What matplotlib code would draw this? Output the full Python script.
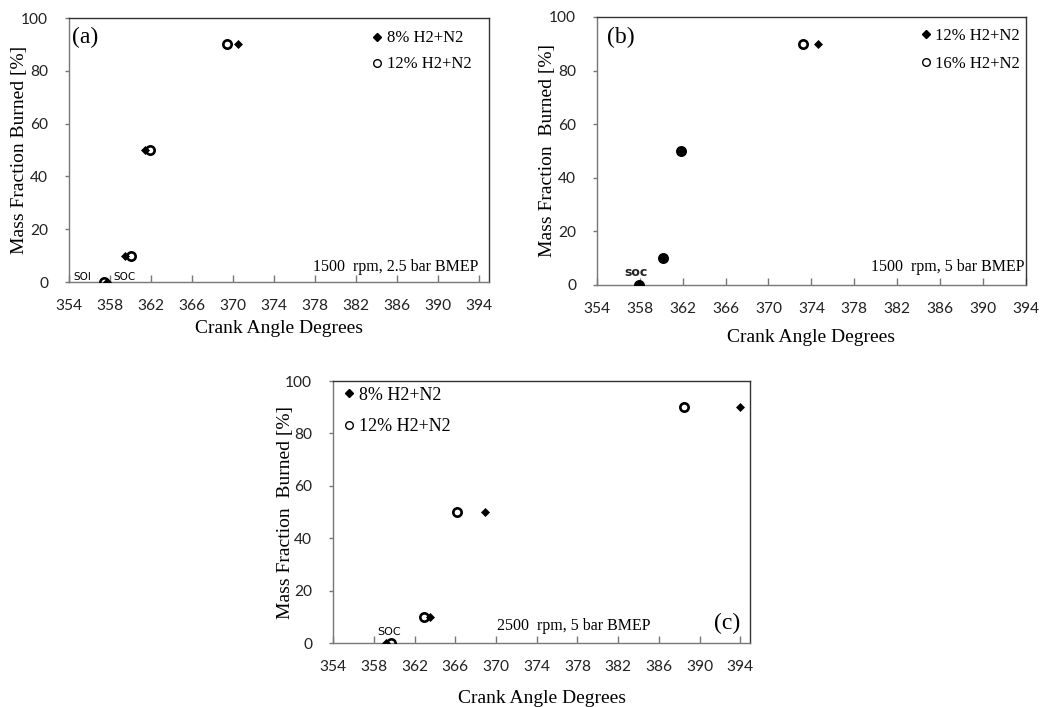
import matplotlib
matplotlib.use("Agg")
import matplotlib.pyplot as plt
from matplotlib.lines import Line2D

# mass fraction burned levels (same for every series)
mfb = [0, 10, 50, 90]

# (a) 1500 rpm, 2.5 bar BMEP
ca_a_8 = [357.7, 359.5, 361.4, 370.5]
ca_a_12 = [357.4, 360.0, 361.9, 369.4]
# (b) 1500 rpm, 5 bar BMEP
ca_b_12 = [357.9, 360.2, 361.85, 374.65]
ca_b_16 = [357.9, 360.2, 361.85, 373.25]
# (c) 2500 rpm, 5 bar BMEP
ca_c_8 = [359.2, 363.5, 368.9, 394.0]
ca_c_12 = [359.7, 362.9, 366.2, 388.5]

x_ticks = list(range(354, 395, 4))
y_ticks = [0, 20, 40, 60, 80, 100]

SERIF = "Liberation Serif"
SANS = "Lato"


def setup_axes(ax, xmax, xlab_y, ylab_x, ylabel):
    ax.set_xlim(354, xmax)
    ax.set_ylim(0, 100)
    ax.set_xticks(x_ticks)
    ax.set_yticks(y_ticks)
    for sp in ax.spines.values():
        sp.set_color("#333333")
        sp.set_linewidth(1.0)
    ax.spines["left"].set_color("#777777")
    ax.spines["bottom"].set_color("#777777")
    ax.tick_params(axis="x", direction="in", length=5, width=1, color="#777777", pad=12)
    ax.tick_params(axis="y", direction="out", length=3, width=1, color="#777777", pad=12)
    for lab in ax.get_xticklabels() + ax.get_yticklabels():
        lab.set_fontfamily(SANS)
        lab.set_fontsize(11.2)
        lab.set_color("#222222")
    ax.set_xlabel("Crank Angle Degrees", fontfamily=SERIF, fontsize=14, va="center")
    ax.xaxis.set_label_coords(0.5, xlab_y)
    ax.set_ylabel(ylabel, fontfamily=SERIF, fontsize=14, va="center")
    ax.yaxis.set_label_coords(ylab_x, 0.5)


def plot_pair(ax, x_d, x_o, lab_d, lab_o, leg_size, leg_anchor, leg_spacing):
    ax.plot(x_d, mfb, linestyle="none", marker="D", ms=4.4, color="black", mew=0.5, zorder=3)
    ax.plot(x_o, mfb, linestyle="none", marker="o", ms=6.0, mfc="none", mec="black", mew=1.9, zorder=4)
    handles = [
        Line2D([], [], linestyle="none", marker="D", ms=4.0, color="black"),
        Line2D([], [], linestyle="none", marker="o", ms=5.5, mfc="none", mec="black", mew=1.0),
    ]
    ax.legend(handles, [lab_d, lab_o], loc="upper left", bbox_to_anchor=leg_anchor,
              frameon=False, handlelength=0.8, handletextpad=0.15, borderpad=0,
              borderaxespad=0, labelspacing=leg_spacing,
              prop={"family": SERIF, "size": leg_size})


fig = plt.figure(figsize=(10.49, 7.07), dpi=100)

# ---- (a)
ax_a = fig.add_axes([0.0658, 0.601, 0.400, 0.3735])
plot_pair(ax_a, ca_a_8, ca_a_12, "8% H2+N2", "12% H2+N2", 12, (0.719, 0.953), 0.6)
setup_axes(ax_a, 394.9, -0.174, -0.117, "Mass Fraction Burned [%]")
ax_a.text(0.008, 0.968, "(a)", transform=ax_a.transAxes, ha="left", va="top",
          fontfamily=SERIF, fontsize=17)
ax_a.text(0.976, 0.057, "1500  rpm, 2.5 bar BMEP", transform=ax_a.transAxes,
          ha="right", va="center", fontfamily=SERIF, fontsize=11.5)
ax_a.text(0.01, 0.02, "SOI", transform=ax_a.transAxes, ha="left", va="center",
          fontfamily="DejaVu Sans", fontsize=7.5)
ax_a.text(0.105, 0.02, "SOC", transform=ax_a.transAxes, ha="left", va="center",
          fontfamily="DejaVu Sans", fontsize=7.5)

# ---- (b)
ax_b = fig.add_axes([0.569, 0.597, 0.409, 0.379])
plot_pair(ax_b, ca_b_12, ca_b_16, "12% H2+N2", "16% H2+N2", 12, (0.752, 0.96), 0.75)
setup_axes(ax_b, 394, -0.198, -0.114, "Mass Fraction  Burned [%]")
ax_b.text(0.023, 0.962, "(b)", transform=ax_b.transAxes, ha="left", va="top",
          fontfamily=SERIF, fontsize=17)
ax_b.text(0.997, 0.067, "1500  rpm, 5 bar BMEP", transform=ax_b.transAxes,
          ha="right", va="center", fontfamily=SERIF, fontsize=11.5)
ax_b.text(0.091, 0.045, "soc", transform=ax_b.transAxes, ha="center", va="center",
          fontfamily="DejaVu Sans", fontsize=9, fontweight="bold", color="#222222")

# ---- (c)
ax_c = fig.add_axes([0.3175, 0.0905, 0.3975, 0.3705])
plot_pair(ax_c, ca_c_8, ca_c_12, "8% H2+N2", "12% H2+N2", 13, (0.021, 0.979), 0.8)
setup_axes(ax_c, 394.95, -0.21, -0.114, "Mass Fraction  Burned [%]")
ax_c.text(0.976, 0.076, "(c)", transform=ax_c.transAxes, ha="right", va="center",
          fontfamily=SERIF, fontsize=17)
ax_c.text(0.577, 0.065, "2500  rpm, 5 bar BMEP", transform=ax_c.transAxes,
          ha="center", va="center", fontfamily=SERIF, fontsize=11.5)
ax_c.text(0.134, 0.042, "SOC", transform=ax_c.transAxes, ha="center", va="center",
          fontfamily="DejaVu Sans", fontsize=8)

fig.savefig("out.png", dpi=100)
